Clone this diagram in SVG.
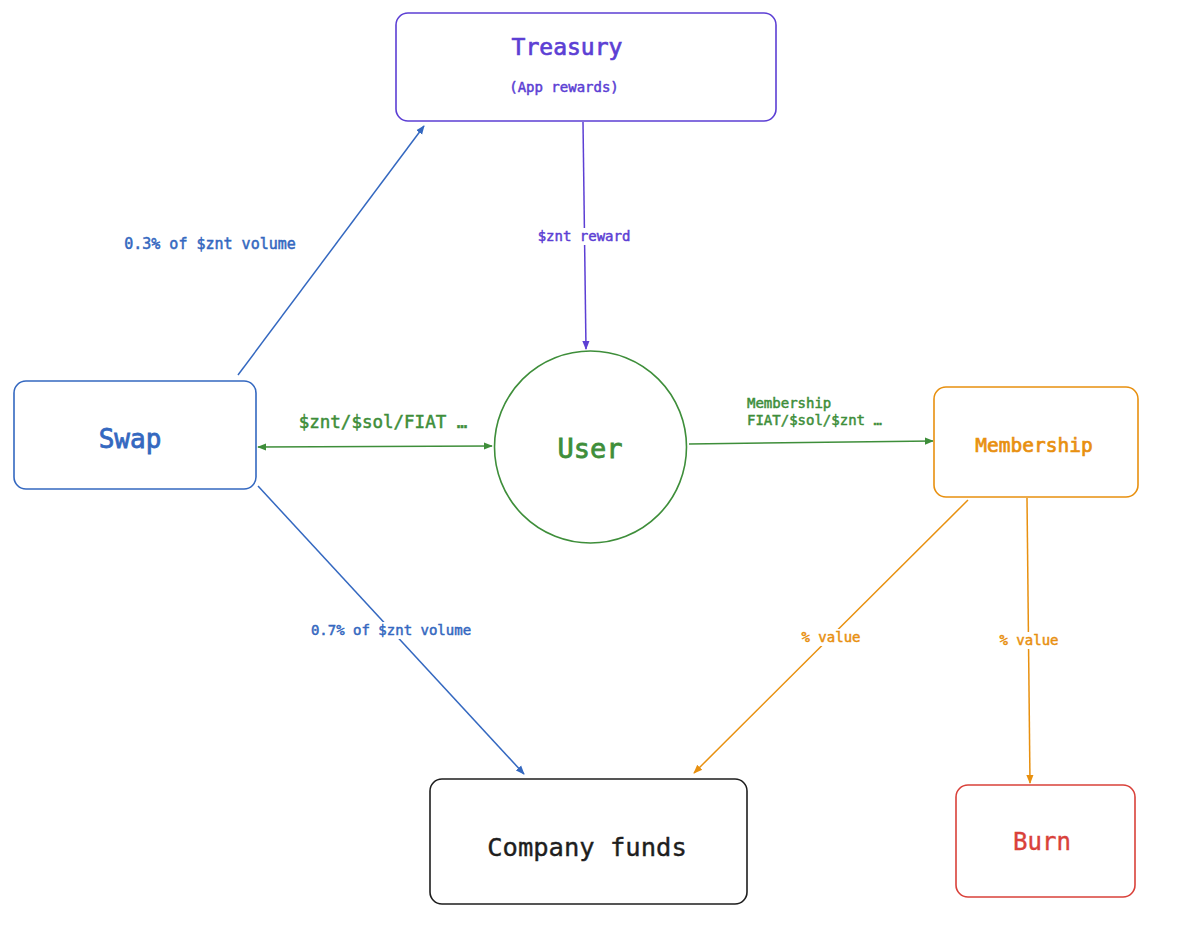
<svg xmlns="http://www.w3.org/2000/svg" width="1200" height="938" viewBox="0 0 1200 938">
<defs>
<style>
text{font-family:"DejaVu Sans Mono","Liberation Mono",monospace;text-anchor:middle;stroke-width:0.5px}
.box{fill:#fff;stroke-width:1.6}
.ln{fill:none;stroke-width:1.5}
.bl{stroke:#3468c0;color:#3468c0}
.pu{stroke:#5c3fd4;color:#5c3fd4}
.gr{stroke:#3e8e3a;color:#3e8e3a}
.or{stroke:#e8900f;color:#e8900f}
.lbl{font-size:14px}
.bg{fill:#fff}
.tb{fill:#3468c0;stroke:#3468c0}
.tp{fill:#5c3fd4;stroke:#5c3fd4}
.tg{fill:#3e8e3a;stroke:#3e8e3a}
.to{fill:#e8900f;stroke:#e8900f}
</style>
<marker id="ah" viewBox="0 0 10 10" refX="9" refY="5" markerWidth="9" markerHeight="9" markerUnits="userSpaceOnUse" orient="auto-start-reverse">
<path d="M0,1 L10,5 L0,9 Z" fill="context-stroke"/>
</marker>
</defs>
<rect width="1200" height="938" fill="#fff"/>

<g id="connectors">
<line class="ln bl" x1="238" y1="375" x2="424" y2="126" marker-end="url(#ah)"/>
<line class="ln pu" x1="583" y1="122" x2="586" y2="349" marker-end="url(#ah)"/>
<line class="ln gr" x1="258" y1="447" x2="492" y2="446" marker-start="url(#ah)" marker-end="url(#ah)"/>
<line class="ln gr" x1="689" y1="444" x2="933" y2="441" marker-end="url(#ah)"/>
<line class="ln bl" x1="258" y1="486" x2="524" y2="774" marker-end="url(#ah)"/>
<line class="ln or" x1="968" y1="500" x2="694" y2="773" marker-end="url(#ah)"/>
<line class="ln or" x1="1027" y1="498" x2="1030" y2="783" marker-end="url(#ah)"/>

<text class="tb" x="210" y="249" style="font-size:15px">0.3% of $znt volume</text>
<rect class="bg" x="536" y="228" width="98" height="17"/>
<text class="lbl tp" x="584" y="241">$znt reward</text>
<text class="tg" x="383" y="428" style="font-size:17.5px">$znt/$sol/FIAT …</text>
<text class="lbl tg" x="747" y="408" style="text-anchor:start">Membership</text>
<text class="lbl tg" x="747" y="425" style="text-anchor:start">FIAT/$sol/$znt …</text>
<rect class="bg" x="308" y="622" width="166" height="17"/>
<text class="lbl tb" x="391" y="635">0.7% of $znt volume</text>
<rect class="bg" x="799" y="629" width="64" height="17"/>
<text class="lbl to" x="831" y="642">% value</text>
<rect class="bg" x="997" y="632" width="64" height="17"/>
<text class="lbl to" x="1029" y="645">% value</text>
</g>

<g id="treasury">
<rect class="box" x="396" y="13" width="380" height="108" rx="12" stroke="#5c3fd4"/>
<text class="tp" x="567" y="55" style="font-size:23px;stroke-width:0.7px">Treasury</text>
<text class="tp" x="564" y="92" style="font-size:14px">(App rewards)</text>
</g>

<g id="swap">
<rect class="box" x="14" y="381" width="242" height="108" rx="12" stroke="#3468c0"/>
<text class="tb" x="130" y="448" style="font-size:26px;stroke-width:0.8px">Swap</text>
</g>

<g id="user">
<circle class="box" cx="590.5" cy="447" r="96" stroke="#3e8e3a"/>
<text class="tg" x="590" y="458" style="font-size:27px;stroke-width:0.8px">User</text>
</g>

<g id="membership">
<rect class="box" x="934" y="387" width="204" height="110" rx="12" stroke="#e8900f"/>
<text class="to" x="1034" y="452" style="font-size:19.5px;stroke-width:0.7px">Membership</text>
</g>

<g id="company-funds">
<rect class="box" x="430" y="779" width="317" height="125" rx="12" stroke="#1e1e1e"/>
<text x="587" y="856" fill="#1e1e1e" stroke="#1e1e1e" style="font-size:25.5px;stroke-width:0.4px">Company funds</text>
</g>

<g id="burn">
<rect class="box" x="956" y="785" width="179" height="112" rx="12" stroke="#d9413a"/>
<text x="1042" y="850" fill="#d9413a" stroke="#d9413a" style="font-size:24px;stroke-width:0.4px">Burn</text>
</g>
</svg>
